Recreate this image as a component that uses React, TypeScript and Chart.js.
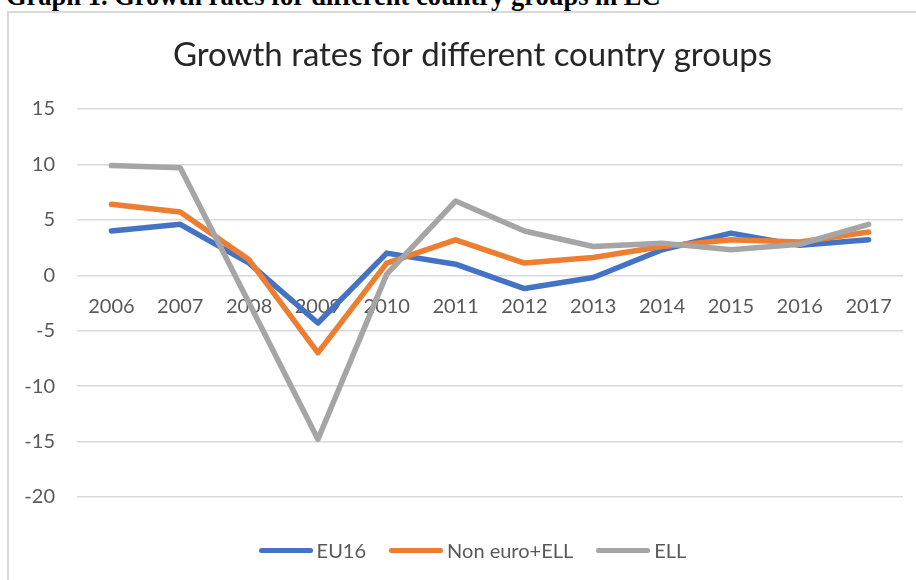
import React, { useEffect, useRef } from "react";
import { Chart, registerables } from "chart.js";

Chart.register(...registerables);

const years = ["2006", "2007", "2008", "2009", "2010", "2011", "2012", "2013", "2014", "2015", "2016", "2017"];
const eu16 = [4.0, 4.6, 1.1, -4.3, 2.0, 1.0, -1.2, -0.2, 2.3, 3.8, 2.7, 3.2];
const nonEuroEll = [6.4, 5.7, 1.4, -7.0, 1.1, 3.2, 1.1, 1.6, 2.6, 3.2, 3.0, 3.9];
const ell = [9.9, 9.7, -2.5, -14.8, 0.1, 6.7, 4.0, 2.6, 2.9, 2.3, 2.8, 4.6];
const seriesNames = ["EU16", "Non euro+ELL", "ELL"];
const seriesColors = ["#4472C4", "#ED7D31", "#A5A5A5"];
const chartTitle = "Growth rates for different country groups";
const pageHeading = "Graph 1. Growth rates for different country groups in EC";
const yMin = -20;
const yMax = 15;
const yStep = 5;

const FONT = "Lato, 'Open Sans', sans-serif";

export default function App() {
  const canvasRef = useRef<HTMLCanvasElement | null>(null);

  useEffect(() => {
    const canvas = canvasRef.current;
    if (!canvas) return;
    const values = [eu16, nonEuroEll, ell];
    const chart = new Chart(canvas, {
      type: "line",
      data: {
        labels: years,
        datasets: values.map((v, i) => ({
          label: seriesNames[i],
          data: v,
          borderColor: seriesColors[i],
          backgroundColor: seriesColors[i],
          borderWidth: 5.5,
          pointRadius: 0,
          pointHoverRadius: 0,
          tension: 0,
          borderJoinStyle: "round" as const,
          borderCapStyle: "round" as const,
          order: 3 - i,
          fill: false,
          yAxisID: "y",
        })),
      },
      options: {
        responsive: false,
        animation: false,
        devicePixelRatio: 1,
        layout: { padding: { left: 0, right: 0, top: 0, bottom: 56 } },
        plugins: {
          legend: { display: false },
          tooltip: { enabled: false },
          title: {
            display: true,
            text: chartTitle,
            color: "#262626",
            font: { family: FONT, size: 33, weight: "normal" },
            padding: { top: 23, bottom: 33.4 },
          },
        },
        scales: {
          x: {
            type: "category",
            position: { y: 0 } as any,
            offset: true,
            grid: { display: false, drawTicks: false },
            border: { display: false },
            ticks: {
              color: "#595959",
              font: { family: FONT, size: 20 },
              padding: 19,
              maxRotation: 0,
              autoSkip: false,
            },
          },
          y: {
            type: "linear",
            position: "left",
            min: yMin,
            max: yMax,
            afterFit: (s: any) => {
              s.width = 68;
            },
            grid: { color: "#d9d9d9", lineWidth: 1.5, drawTicks: false },
            border: { display: false },
            ticks: {
              stepSize: yStep,
              color: "#595959",
              font: { family: FONT, size: 20 },
              padding: 22,
            },
          },
          yRight: {
            type: "linear",
            position: "right",
            min: yMin,
            max: yMax,
            afterFit: (s: any) => {
              s.width = 33;
            },
            grid: { display: false, drawTicks: false },
            border: { display: false },
            ticks: { display: false },
          },
        },
      },
    });
    return () => chart.destroy();
  }, []);

  return (
    <div
      style={{
        position: "fixed",
        left: 0,
        top: 0,
        width: 916,
        height: 580,
        overflow: "hidden",
        background: "#fff",
      }}
    >
      <div
        style={{
          position: "absolute",
          left: 6,
          top: -17,
          font: "bold 26.5px 'Liberation Serif', 'Times New Roman', serif",
          lineHeight: "26px",
          whiteSpace: "nowrap",
          color: "#000",
        }}
      >
        {pageHeading}
      </div>
      <div
        style={{
          position: "absolute",
          left: 7,
          top: 11,
          width: 931,
          height: 600,
          border: "2px solid #d9d9d9",
          boxSizing: "border-box",
        }}
      >
        <canvas
          ref={canvasRef}
          width={927}
          height={540}
          style={{ position: "absolute", left: 0, top: 0, width: 927, height: 540 }}
        />
        <div
          style={{
            position: "absolute",
            left: 0,
            right: 0,
            top: 525,
            height: 24,
            display: "flex",
            alignItems: "center",
            justifyContent: "center",
            fontFamily: FONT,
            fontSize: 20,
            color: "#595959",
          }}
        >
          {seriesNames.map((n, i) => (
            <div
              key={n}
              style={{ display: "flex", alignItems: "center", marginRight: i < seriesNames.length - 1 ? 23 : 0 }}
            >
              <span
                style={{
                  display: "inline-block",
                  width: 54,
                  height: 5,
                  borderRadius: 3,
                  background: seriesColors[i],
                  marginRight: 4,
                }}
              />
              <span>{n}</span>
            </div>
          ))}
        </div>
      </div>
    </div>
  );
}
